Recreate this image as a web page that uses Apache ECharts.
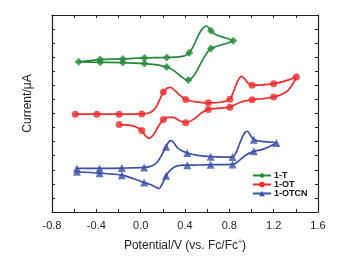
<!DOCTYPE html>
<html>
<head>
<meta charset="utf-8">
<script src="https://cdn.jsdelivr.net/npm/echarts@6/dist/echarts.min.js"></script>
<style>
  html, body { margin: 0; padding: 0; background: #fff; }
  #chart { width: 355px; height: 259px; }
</style>
</head>
<body>
<div id="chart"></div>
<script>
// Potential (V vs Fc/Fc+) / current (arbitrary, offset)
const seriesNames = ['1-T', '1-OT', '1-OTCN'];

// 1-T: forward scan then reverse scan
const curveT = [
  [-0.56, 10.67], [-0.365, 10.83], [-0.161, 10.88], [0.034, 10.95], [0.235, 10.98],
  [0.34, 11.02], [0.40, 11.1], [0.439, 11.31], [0.48, 11.85], [0.52, 12.55],
  [0.56, 13.05], [0.595, 13.22], [0.634, 12.88], [0.68, 12.6], [0.76, 12.38], [0.835, 12.17],
  [0.74, 11.9], [0.634, 11.62], [0.585, 11.15], [0.535, 10.45], [0.49, 9.8],
  [0.45, 9.45], [0.425, 9.36], [0.39, 9.48], [0.34, 9.8], [0.29, 10.1], [0.235, 10.31],
  [0.13, 10.47], [0.034, 10.55], [-0.161, 10.62], [-0.365, 10.64], [-0.56, 10.67]
];
const marksT = [
  [-0.56, 10.67], [-0.365, 10.83], [-0.161, 10.88], [0.034, 10.95], [0.235, 10.98],
  [0.439, 11.31], [0.634, 12.88], [0.835, 12.17],
  [0.634, 11.62], [0.43, 9.38], [0.235, 10.31], [0.034, 10.55], [-0.161, 10.62], [-0.365, 10.64]
];

// 1-OT
const curveOT = [
  [-0.59, 6.95], [-0.395, 6.95], [-0.194, 6.95], [0.01, 6.97], [0.08, 7.05],
  [0.13, 7.35], [0.17, 7.95], [0.205, 8.52], [0.24, 8.82], [0.27, 8.85],
  [0.31, 8.62], [0.36, 8.25], [0.406, 8.0], [0.50, 7.82], [0.61, 7.76],
  [0.72, 7.8], [0.805, 8.02], [0.84, 8.6], [0.875, 9.3], [0.91, 9.64],
  [0.94, 9.45], [0.97, 9.15], [1.006, 9.0], [1.10, 9.03], [1.20, 9.12],
  [1.30, 9.3], [1.405, 9.6],
  [1.38, 9.2], [1.33, 8.65], [1.27, 8.35], [1.20, 8.17], [1.10, 8.05],
  [1.006, 7.98], [0.90, 7.8], [0.805, 7.45], [0.715, 7.38], [0.61, 7.29],
  [0.55, 7.05], [0.48, 6.6], [0.406, 6.35], [0.35, 6.5], [0.295, 6.72],
  [0.245, 6.72], [0.205, 6.57], [0.16, 6.1], [0.12, 5.55], [0.076, 5.24],
  [0.04, 5.45], [0.01, 5.79], [-0.06, 6.1], [-0.194, 6.21]
];
const marksOT = [
  [-0.59, 6.95], [-0.395, 6.95], [-0.194, 6.95], [0.01, 6.97], [0.205, 8.52],
  [0.406, 8.0], [0.61, 7.76], [0.805, 8.02], [1.006, 9.0], [1.20, 9.12], [1.405, 9.6],
  [1.20, 8.17], [1.006, 7.98], [0.805, 7.45], [0.61, 7.29], [0.406, 6.35],
  [0.205, 6.57], [0.01, 5.79], [-0.194, 6.21]
];

// 1-OTCN
const curveOTCN = [
  [-0.575, 3.10], [-0.371, 3.10], [-0.17, 3.12], [0.031, 3.17], [0.10, 3.27],
  [0.15, 3.55], [0.19, 4.05], [0.229, 4.64], [0.255, 5.0], [0.275, 5.07],
  [0.30, 4.9], [0.34, 4.5], [0.421, 4.19], [0.52, 4.02], [0.631, 3.93],
  [0.74, 3.9], [0.829, 3.90], [0.865, 4.3], [0.90, 5.0], [0.935, 5.6],
  [0.964, 5.74], [0.99, 5.45], [1.021, 5.14], [1.12, 5.0], [1.225, 4.90],
  [1.18, 4.72], [1.10, 4.45], [1.021, 4.31], [0.95, 4.05], [0.88, 3.6],
  [0.829, 3.38], [0.73, 3.37], [0.631, 3.36], [0.52, 3.34], [0.421, 3.33],
  [0.33, 3.28], [0.27, 3.0], [0.229, 2.57], [0.195, 2.0], [0.165, 1.67],
  [0.13, 1.8], [0.08, 1.97], [0.031, 2.10], [-0.07, 2.38], [-0.17, 2.62],
  [-0.371, 2.76], [-0.575, 2.86]
];
const marksOTCN = [
  [-0.575, 3.10], [-0.371, 3.10], [-0.17, 3.12], [0.031, 3.17], [0.229, 4.64],
  [0.421, 4.19], [0.631, 3.93], [0.829, 3.90], [1.021, 5.14], [1.225, 4.90],
  [1.021, 4.31], [0.829, 3.38], [0.631, 3.36], [0.421, 3.33], [0.229, 2.57],
  [0.031, 2.10], [-0.17, 2.62], [-0.371, 2.76], [-0.575, 2.86]
];

const xTicks = [-0.8, -0.4, 0.0, 0.4, 0.8, 1.2, 1.6];

const colors = ['#23893a', '#ee2a2a', '#3a50a6'];
const symbols = ['diamond', 'circle', 'triangle'];
const symSizes = [8, 7, 8];
const curves = [curveT, curveOT, curveOTCN];
const marks = [marksT, marksOT, marksOTCN];

const chart = echarts.init(document.getElementById('chart'));

const axisCommon = {
  axisLine: { show: true, onZero: false, lineStyle: { color: '#222', width: 1.2 } },
  axisTick: { show: true, inside: true, length: 3, lineStyle: { color: '#222' } },
  splitLine: { show: false }
};

const series = [];
curves.forEach((c, i) => {
  series.push({
    name: seriesNames[i],
    type: 'line',
    smooth: 0.3,
    symbol: symbols[i],
    symbolSize: symSizes[i],
    data: c.map(p => ({ value: p, symbol: 'none' })),
    lineStyle: { color: colors[i], width: 1.7 },
    itemStyle: { color: colors[i] },
    z: 2
  });
  series.push({
    name: seriesNames[i],
    type: 'scatter',
    symbol: symbols[i],
    symbolSize: symSizes[i],
    data: marks[i],
    itemStyle: { color: colors[i] },
    z: 3
  });
});

chart.setOption({
  animation: false,
  grid: { left: 52, right: 37, top: 15, bottom: 47 },
  legend: {
    data: seriesNames,
    orient: 'vertical',
    left: 247,
    top: 166,
    itemWidth: 18,
    itemHeight: 7,
    itemGap: 0,
    textStyle: { fontFamily: 'Liberation Sans', fontWeight: 'bold', fontSize: 9, color: '#111', padding: [0, 0, 0, -2] }
  },
  xAxis: [
    Object.assign({}, axisCommon, {
      type: 'value',
      min: xTicks[0],
      max: xTicks[xTicks.length - 1],
      interval: 0.4,
      minorTick: { show: true, splitNumber: 2, length: 3, lineStyle: { color: '#222' } },
      axisLabel: {
        fontFamily: 'Liberation Sans', fontSize: 11, color: '#222', margin: 8,
        formatter: v => v.toFixed(1)
      },
      name: '{a|Potential/V (vs. Fc/Fc}{s|+}{a|)}',
      nameLocation: 'middle',
      nameGap: 27,
      nameTextStyle: {
        rich: {
          a: { fontFamily: 'Liberation Sans', fontSize: 12, color: '#222' },
          s: { fontFamily: 'Liberation Sans', fontSize: 7, color: '#222', verticalAlign: 'top', padding: [0, 0, 6, 0] }
        }
      }
    }),
    Object.assign({}, axisCommon, {
      type: 'value', position: 'top',
      min: xTicks[0], max: xTicks[xTicks.length - 1], interval: 0.4,
      minorTick: { show: true, splitNumber: 2, length: 3, lineStyle: { color: '#222' } },
      axisLabel: { show: false }
    })
  ],
  yAxis: [
    Object.assign({}, axisCommon, {
      type: 'value', min: 0, max: 14, interval: 1,
      axisLabel: { show: false },
      name: 'Current/\u03bcA',
      nameLocation: 'middle',
      nameGap: 18,
      nameTextStyle: { fontFamily: 'Liberation Sans', fontSize: 12, color: '#222', padding: [0, 0, 0, 20] }
    }),
    Object.assign({}, axisCommon, {
      type: 'value', position: 'right', min: 0, max: 14, interval: 1,
      axisLabel: { show: false }
    })
  ],
  series: series
});
</script>
</body>
</html>
